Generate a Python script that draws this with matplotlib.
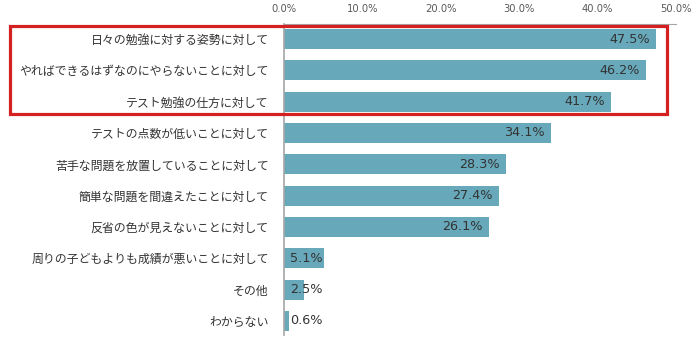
import matplotlib
matplotlib.use('Agg')
import matplotlib.pyplot as plt
from matplotlib.patches import Rectangle
from matplotlib.ticker import FuncFormatter

plt.rcParams['font.family'] = ['Noto Sans CJK JP', 'DejaVu Sans']

# Reasons (top to bottom) and their shares in %
labels = [
    '日々の勉強に対する姿勢に対して',
    'やればできるはずなのにやらないことに対して',
    'テスト勉強の仕方に対して',
    'テストの点数が低いことに対して',
    '苦手な問題を放置していることに対して',
    '簡単な問題を間違えたことに対して',
    '反省の色が見えないことに対して',
    '周りの子どもよりも成績が悪いことに対して',
    'その他',
    'わからない',
]
values = [47.5, 46.2, 41.7, 34.1, 28.3, 27.4, 26.1, 5.1, 2.5, 0.6]
xticks = [0, 10, 20, 30, 40, 50]

bar_color = '#67a8ba'
text_color = '#333333'
axis_color = '#a6a6a6'

fig = plt.figure(figsize=(7, 3.41), dpi=100)
ax = fig.add_axes([0.4057, 0.0176, 0.56, 0.912])

ypos = list(range(len(values)))
ax.barh(ypos, values, height=0.64, color=bar_color)

ax.set_xlim(0, 50)
ax.set_ylim(len(values) - 0.55, -0.48)
ax.set_xticks(xticks)
ax.xaxis.set_major_formatter(FuncFormatter(lambda v, p: f'{v:.1f}%'))
ax.xaxis.tick_top()
ax.tick_params(axis='x', length=0, labelsize=7.2, labelcolor='#595959', pad=7)
for t in ax.get_xticklabels():
    t.set_family('DejaVu Sans')
ax.set_yticks(ypos)
ax.set_yticklabels(labels, fontsize=8.6, color=text_color)
ax.tick_params(axis='y', length=0, pad=11)
for t in ax.get_yticklabels():
    t.set_va('center_baseline')

for side in ['right', 'bottom']:
    ax.spines[side].set_visible(False)
ax.spines['top'].set_color(axis_color)
ax.spines['left'].set_color(axis_color)
ax.spines['left'].set_linewidth(1.2)

# value labels: inside the end of long bars, at the base for short ones
for y, v in zip(ypos, values):
    if v >= 10:
        ax.text(v - 0.8, y, f'{v:.1f}%', ha='right', va='center',
                fontsize=9.2, color=text_color, family='DejaVu Sans')
    else:
        ax.text(0.8, y, f'{v:.1f}%', ha='left', va='center',
                fontsize=9.2, color=text_color, family='DejaVu Sans')

# highlight box around the top three reasons
fig.add_artist(Rectangle((10 / 700, 1 - 114 / 341), 657 / 700, 88 / 341,
                         transform=fig.transFigure, fill=False,
                         edgecolor='#d42020', linewidth=2.3))

fig.savefig('out.png', dpi=100)
